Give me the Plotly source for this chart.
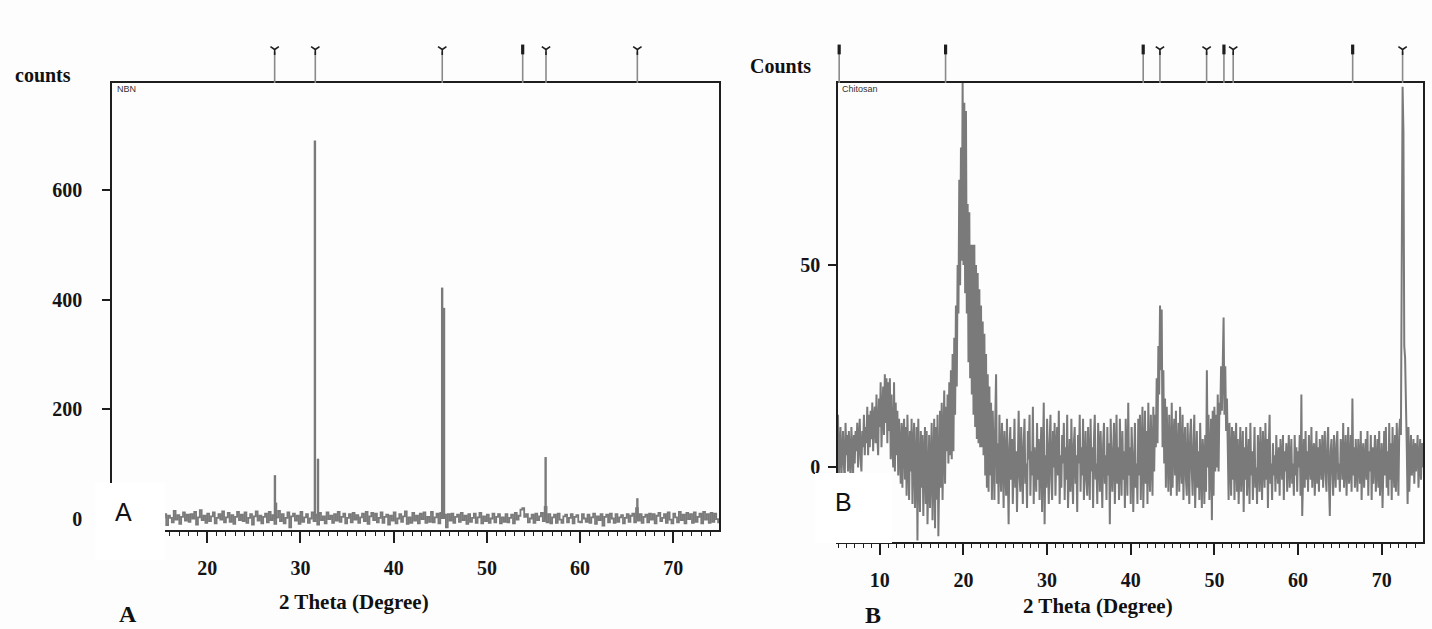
import plotly.graph_objects as go

# ---------------- DATA ----------------
# Panel A (NBN): baseline counts every 0.2 degree from 10.0 to 75.0
a_start, a_step = 10.0, 0.2
a_counts = [
    8, -6, 3, 12, -4, 2, 9, -8, 5, -1,
    11, -3, 4, 7, -9, 1, 13, -5, 6, -2,
    10, 0, -7, 5, 14, -4, 3, 9, -11, 6,
    2, -6, 15, -1, 7, -9, 4, 12, -3, 8,
    -5, 9, 1, 13, -10, 3, 16, -2, 6, -7,
    10, -4, 5, 12, -8, 2, 9, -1, 14, -6,
    3, 11, -5, 7, -9, 4, 13, -2, 8, -4,
    12, -7, 2, 9, -10, 5, 14, -3, 6, -8,
    4, 10, -6, 13, -2, 7, -9, 3, 15, -4,
    9, -8, 2, 12, -15, 5, 10, -3, 6, -9,
    13, -5, 3, 9, -7, 1, 12, -4, 8, -10,
    11, -2, 5, -8, 12, 0, 6, -7, 9, -3,
    13, -5, 4, 10, -8, 2, 9, -6, 11, -1,
    7, -7, 3, 10, -4, 13, -9, 5, 11, -2,
    10, -6, 2, 12, -7, 4, 8, -10, 6, -3,
    12, -8, 1, 9, -5, 5, 14, -9, 3, -7,
    11, -3, 6, -8, 10, 0, 12, -7, 4, -5,
    13, -6, 3, 10, -8, 11, 25, 8, -15, 9,
    -3, 10, -7, 4, 8, -5, 11, -2, 6, -9,
    9, -5, 2, 10, -7, 3, 11, -8, 5, -4,
    8, -7, 1, 10, -6, 4, 9, -8, 3, -5,
    9, -6, 2, 8, -8, 11, -1, 6, 17, 20,
    4, 9, -6, 1, 8, -7, 10, -2, 5, 11,
    -4, 22, -6, 9, -8, 3, 8, -7, 10, -1,
    -7, 5, 8, -6, 2, 9, -8, 4, 7, -5,
    -6, 9, 1, -5, 8, -7, 3, 10, -9, 5,
    -2, 9, -12, 4, 8, -6, 10, 1, -7, 9,
    -5, 3, 7, -8, 2, 9, -5, 6, 10, -6,
    20, -3, 9, -7, 4, 8, -6, 10, -1, 9,
    -8, 6, 11, -4, 2, 9, -7, 12, -1, -8,
    10, 3, -6, 13, -2, 8, -8, 11, 0, 9,
    -7, 12, -5, 4, 10, -8, 13, -1, 9, -7,
    11, -5, 10, 0, -6, 9,
]
a_peak_pos = [27.26, 27.38, 31.55, 31.88, 45.2, 45.4, 56.3, 66.14]
a_peak_h = [80, 30, 690, 110, 422, 385, 113, 38]
a_ref_pos = [27.23, 31.59, 45.21, 53.84, 56.34, 66.14]
a_ref_kind = ["Y", "Y", "Y", "I", "Y", "Y"]

# Panel B (Chitosan): counts every 0.1 degree from 5.0 to 75.0
b_start, b_step = 5.0, 0.1
b_counts = [
    13, -2, 4, 10, -3, 5, 9, 1, -4, 11, 3, 8, -1, 9, 2, -3, 10, 4, -2, 8,
    1, 9, 4, 11, 0, 7, 12, 2, -1, 9, 5, 13, 3, 10, 6, 15, 3, 13, 5, 14,
    7, 16, 4, 12, 15, 6, 18, 8, 3, 17, 10, 21, 5, 14, 20, 8, 23, 11, 22, 6,
    21, 9, 22, 2, 18, 6, 0, 21, -1, 16, 3, 14, -2, 12, 2, -4, 11, -5, 8, 12,
    -3, 10, -7, 13, 2, -8, 9, -1, 12, -9, 5, 11, -10, 3, 10, -18, 12, -2, -11, 9,
    -5, 8, -12, 2, 10, -9, 9, -14, 0, 8, -10, 4, 11, -13, -3, 12, -15, 10, -8, 13,
    -17, 1, 14, -5, 16, -8, 6, 19, -4, 15, 4, 18, 1, 21, 3, 24, 2, 28, 4, 32,
    13, 40, 20, 50, 38, 71, 45, 79, 51, 95, 50, 90, 43, 88, 38, 65, 26, 63, 22, 55,
    18, 55, 13, 55, 10, 50, 7, 48, 6, 44, 5, 40, 5, 36, 3, 33, -2, 28, -5, 23,
    -6, 20, -2, 16, -8, 14, 3, -8, 12, 23, -4, 6, -9, 13, 1, -6, 11, 4, -10, 9,
    2, -7, 12, 0, -14, 5, 10, -3, 7, -9, 1, 12, -5, 4, -11, 8, 14, -2, -6, 10,
    3, -9, 6, 12, -4, 1, -10, 9, 2, 13, -7, 4, -2, 15, -9, 5, 0, -6, 11, -3,
    7, -8, 2, 10, -11, 4, 16, -14, 3, -5, 12, 1, -9, 6, 13, -3, -8, 9, 0, 11,
    -7, 4, 10, -2, 14, -9, 3, -5, 8, 1, 11, -8, 5, -3, 13, -10, 2, 7, -6, 12,
    0, -9, 6, 10, -4, 3, -11, 8, 1, 13, -6, 5, -2, 12, -8, 4, 9, -3, -7, 10,
    2, -8, 12, -1, 5, -10, 7, 13, -3, 1, -9, 11, 4, -6, 9, -2, -10, 6, 11, -4,
    3, -8, 10, -2, 6, -14, 12, 1, -6, 4, 11, -9, 0, 13, -4, 5, -8, 12, 2, -7,
    9, -3, 4, -10, 12, 0, -7, 16, -2, 5, -9, 10, 3, -11, 7, 11, -5, 1, -9, 12,
    -2, 13, -8, 5, 15, -10, 3, 14, -4, 9, -9, 16, 0, -6, 13, 4, -7, 15, -1, 13,
    5, 22, 6, 30, 18, 40, 24, 39, 5, 24, 1, 17, -5, 15, 2, -6, 13, 4, -7, 16,
    -5, 6, 12, -2, 14, -7, 3, 11, -6, 15, 1, -4, 13, -8, 5, 10, -3, -7, 11, 2,
    -9, 8, 12, -1, -7, 6, 13, -10, 2, 9, -5, 4, -8, 11, 0, -10, 7, 3, -9, 8,
    -6, 24, 0, 13, -8, 4, 12, -13, 14, -7, 15, -1, 13, 0, 18, -1, 16, 13, 25, 14,
    27, 37, 13, 25, 9, 17, 5, -8, 11, 2, -7, 10, -3, 9, -8, 4, 11, -6, 7, -9,
    3, 10, -6, 1, 9, -11, 5, -3, 10, -7, 2, 7, -9, 11, -2, 4, -8, 6, 10, -5,
    0, -9, 8, 3, -6, 10, -1, -8, 9, 2, -5, 11, -3, 7, -10, 5, 13, -4, 1, -8,
    6, -2, 3, -6, 8, 0, -4, 5, -7, 7, 1, -3, 8, -8, 4, -1, 6, -6, 2, 8,
    -5, 3, 7, -4, 1, -7, 8, -2, 5, -6, 4, 0, 8, -7, 18, -12, 2, 7, -5, 9,
    -3, 4, -6, 8, 1, -3, 10, -5, 3, 6, -7, 0, 9, -4, 5, -6, 7, 2, -3, 8,
    -5, 3, 9, -2, -6, 6, 10, -4, -12, 4, 7, -1, -7, 8, 2, -5, 6, 9, -3, 1,
    -6, 7, 4, -3, 11, -5, 1, 8, -7, 3, 10, -4, -1, 8, -6, 17, -2, 5, -5, 7,
    0, -6, 7, 2, -4, 9, -8, 3, 6, -5, 1, 7, -3, 9, -7, 4, -1, 8, -8, 5,
    -4, 2, 8, -6, 4, 7, -5, 9, -7, 1, 6, -10, 3, 9, -2, 10, -5, 4, -7, 11,
    -3, 6, -8, 10, 1, -5, 8, -6, 11, 2, -7, 9, 12, 8, 61, 94, 83, 30, 27, 19,
    5, -9, 10, -6, 3, 8, -2, 1, 7, -4, 6, -1, 3, 8, -5, 2, 7, -3, 6, 0,
    6,
]
b_ref_pos = [5.14, 17.86, 41.49, 43.49, 49.07, 51.14, 52.25, 66.53, 72.5]
b_ref_kind = ["I", "I", "I", "Y", "Y", "I", "Y", "I", "Y"]

a_xticks = [20, 30, 40, 50, 60, 70]
a_yticks = [0, 200, 400, 600]
b_xticks = [10, 20, 30, 40, 50, 60, 70]
b_yticks = [0, 50]

# ---------------- FIGURE ----------------
W, H = 1432, 629
def fx(p):
    return p / W
def fy(p):
    return 1 - p / H

a_x = [round(a_start + i * a_step, 4) for i in range(len(a_counts))]
b_x = [round(b_start + i * b_step, 4) for i in range(len(b_counts))]

GRAY = "#7a7a7a"
DARK = "#1e1e1e"
fig = go.Figure()

fig.add_trace(go.Scatter(x=a_x, y=a_counts, mode="lines",
                         line=dict(color=GRAY, width=1.8, shape="hv"),
                         xaxis="x", yaxis="y", hoverinfo="skip"))
pk_x, pk_y = [], []
for p, h in zip(a_peak_pos, a_peak_h):
    pk_x += [p, p, None]
    pk_y += [0, h, None]
fig.add_trace(go.Scatter(x=pk_x, y=pk_y, mode="lines",
                         line=dict(color=GRAY, width=2.4),
                         xaxis="x", yaxis="y", hoverinfo="skip"))
fig.add_trace(go.Scatter(x=b_x, y=b_counts, mode="lines",
                         line=dict(color=GRAY, width=2.0),
                         xaxis="x2", yaxis="y2", hoverinfo="skip"))


def add_refs(pos, kind, xa, ya):
    sx, sy = [], []
    for p in pos:
        sx += [p, p, None]
        sy += [0, 0.8, None]
    fig.add_trace(go.Scatter(x=sx, y=sy, mode="lines",
                             line=dict(color="#8a8a8a", width=1.6),
                             xaxis=xa, yaxis=ya, cliponaxis=False, hoverinfo="skip"))
    sym = ["y-down" if k == "Y" else "line-ns" for k in kind]
    lw = [1.6 if k == "Y" else 3.2 for k in kind]
    fig.add_trace(go.Scatter(x=pos, y=[0.86] * len(pos), mode="markers",
                             marker=dict(symbol=sym, size=7, color=DARK,
                                         line=dict(color=DARK, width=lw)),
                             xaxis=xa, yaxis=ya, cliponaxis=False, hoverinfo="skip"))


add_refs(a_ref_pos, a_ref_kind, "x", "y3")
add_refs(b_ref_pos, b_ref_kind, "x2", "y4")

tickfont = dict(family="Liberation Serif", size=20, color="#151515", weight="bold")
minor = dict(dtick=1, ticks="outside", ticklen=4, tickwidth=1.2, tickcolor=DARK, showgrid=False)
xcommon = dict(showline=True, linecolor=DARK, linewidth=1.6, mirror=True,
               ticks="outside", ticklen=11, tickwidth=1.6, tickcolor=DARK,
               showgrid=False, zeroline=False, tickfont=tickfont, minor=minor,
               ticklabelstandoff=8)
ycommon = dict(showline=True, linecolor=DARK, linewidth=1.6, mirror=True,
               ticks="outside", ticklen=8, tickwidth=1.6, tickcolor=DARK,
               showgrid=False, zeroline=False, tickfont=tickfont)

fig.update_layout(
    width=W, height=H,
    margin=dict(l=0, r=0, t=0, b=0),
    paper_bgcolor="#fdfdfd", plot_bgcolor="#fdfdfd",
    showlegend=False,
    xaxis=dict(domain=[fx(112), fx(719)], range=[9.78, 74.9], anchor="y",
               tickvals=a_xticks, **xcommon),
    yaxis=dict(domain=[fy(530), fy(83)], range=[-20, 795], anchor="x",
               tickvals=a_yticks, ticklabelstandoff=16, **ycommon),
    xaxis2=dict(domain=[fx(838), fx(1423)], range=[5.0, 74.94], anchor="y2",
                tickvals=b_xticks, **xcommon),
    yaxis2=dict(domain=[fy(542), fy(83)], range=[-18.4, 94.9], anchor="x2",
                tickvals=b_yticks, ticklabelstandoff=4, **ycommon),
    yaxis3=dict(domain=[fy(83), fy(44)], range=[0, 1], anchor="x", visible=False),
    yaxis4=dict(domain=[fy(83), fy(44)], range=[0, 1], anchor="x2", visible=False),
)

# white label boxes overlaying the lower-left corners
for x0, y0, x1, y1 in [(95, 483, 165, 560), (815, 473, 892, 543)]:
    fig.add_shape(type="rect", xref="paper", yref="paper",
                  x0=fx(x0), x1=fx(x1), y0=fy(y1), y1=fy(y0),
                  fillcolor="white", line=dict(width=0), layer="above")

serif_b = lambda s: dict(family="Liberation Serif", size=s, color="#111", weight="bold")
ann = [
    ("counts", 43, 75, serif_b(20), "center"),
    ("Counts", 781, 66, serif_b(20), "center"),
    ("2 Theta (Degree)", 354, 602, serif_b(21), "center"),
    ("2 Theta (Degree)", 1098, 606, serif_b(21), "center"),
    ("A", 128, 614, serif_b(24), "center"),
    ("B", 873, 615, serif_b(24), "center"),
    ("A", 123, 512, dict(family="Liberation Sans", size=25, color="#111"), "center"),
    ("B", 843, 502, dict(family="Liberation Sans", size=25, color="#111"), "center"),
    ("NBN", 115, 89, dict(family="Liberation Sans", size=9, color="#333"), "left"),
    ("Chitosan", 840, 89, dict(family="Liberation Sans", size=9, color="#333"), "left"),
]
for text, x, y, font, xa in ann:
    fig.add_annotation(text=text, x=fx(x), y=fy(y), xref="paper", yref="paper",
                       showarrow=False, font=font, xanchor=xa, yanchor="middle")

fig.write_html("out.html", config={"displayModeBar": False},
               post_script="document.body.style.margin='0px';document.body.style.overflow='hidden';")
